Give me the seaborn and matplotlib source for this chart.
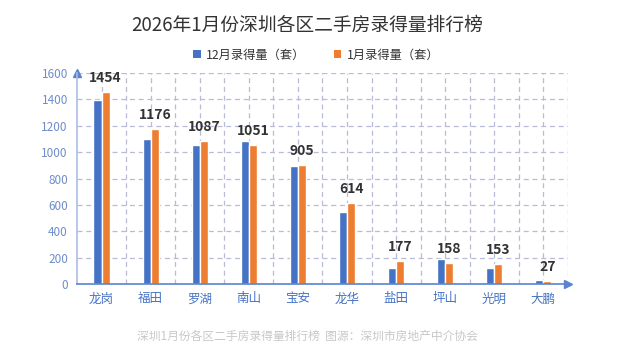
import matplotlib.pyplot as plt
import seaborn as sns
import pandas as pd

# 数据
districts = ['龙岗', '福田', '罗湖', '南山', '宝安', '龙华', '盐田', '坪山', '光明', '大鹏']
dec_values = [1397, 1098, 1053, 1083, 892, 550, 124, 192, 125, 32]
jan_values = [1454, 1176, 1087, 1051, 905, 614, 177, 158, 153, 27]
series_names = ['12月录得量（套）', '1月录得量（套）']
colors = ['#4472C4', '#ED7D31']
yticks = [0, 200, 400, 600, 800, 1000, 1200, 1400, 1600]

df = pd.DataFrame({
    '区': districts * 2,
    '录得量': dec_values + jan_values,
    '月份': [series_names[0]] * len(districts) + [series_names[1]] * len(districts),
})

sns.set_theme(style="white")
plt.rcParams['font.family'] = ['Noto Sans CJK SC', 'DejaVu Sans']

fig = plt.figure(figsize=(6.36, 3.61), dpi=100)
ax = fig.add_axes([0.121, 0.213, 0.772, 0.585])

sns.barplot(data=df, x='区', y='录得量', hue='月份', palette=colors,
            width=0.33, gap=0, saturation=1, ax=ax, legend=True)

# 数据标签（仅1月）
for i, v in enumerate(jan_values):
    ax.annotate(str(v), (i + 0.085, v), xytext=(0, 5), textcoords='offset points',
                ha='center', va='bottom', fontsize=10, fontweight='bold', color='#333333')

ax.set_xlim(-0.5, 9.5)
ax.set_ylim(0, 1600)
ax.set_yticks(yticks)
ax.set_xlabel('')
ax.set_ylabel('')

# 网格
grid_color = '#b8bcd8'
for y in yticks[1:]:
    ax.axhline(y, color=grid_color, linestyle=(0, (4, 3)), linewidth=0.9, zorder=0)
for k in range(1, 21):
    ax.axvline(-0.5 + k * 0.5, color=grid_color, linestyle=(0, (4, 3)), linewidth=0.9, zorder=0)

for s in ['top', 'right']:
    ax.spines[s].set_visible(False)
axis_color = '#5b83cf'
ax.spines['left'].set_color('#a9bde6')
ax.spines['left'].set_linewidth(1.2)
ax.spines['bottom'].set_color(axis_color)
ax.spines['bottom'].set_linewidth(1.2)
ax.plot([0], [1], marker='^', color=axis_color, markersize=6, transform=ax.transAxes, clip_on=False)
ax.plot([1], [0], marker='>', color=axis_color, markersize=6, transform=ax.transAxes, clip_on=False)

ax.tick_params(axis='x', colors='#4472C4', labelsize=9, length=0, pad=6)
ax.tick_params(axis='y', colors='#6f8ccb', labelsize=8.5, length=0, pad=6.5)

# 图例
handles, labels = ax.get_legend_handles_labels()
for h in handles:
    h.set_linewidth(0)
ax.get_legend().remove()
fig.legend(handles, labels, loc='center', bbox_to_anchor=(0.497, 0.848), ncol=2, frameon=False,
           fontsize=8.8, handlelength=0.65, handleheight=0.65, handletextpad=0.45,
           columnspacing=2.3, labelcolor='#333333')

fig.text(0.483, 0.931, '2026年1月份深圳各区二手房录得量排行榜', ha='center', va='center',
         fontsize=13.5, color='#333333')
fig.text(0.483, 0.069, '深圳1月份各区二手房录得量排行榜  图源：深圳市房地产中介协会', ha='center', va='center',
         fontsize=8.5, color='#c8c8c8')

fig.savefig('out.png', dpi=100)
